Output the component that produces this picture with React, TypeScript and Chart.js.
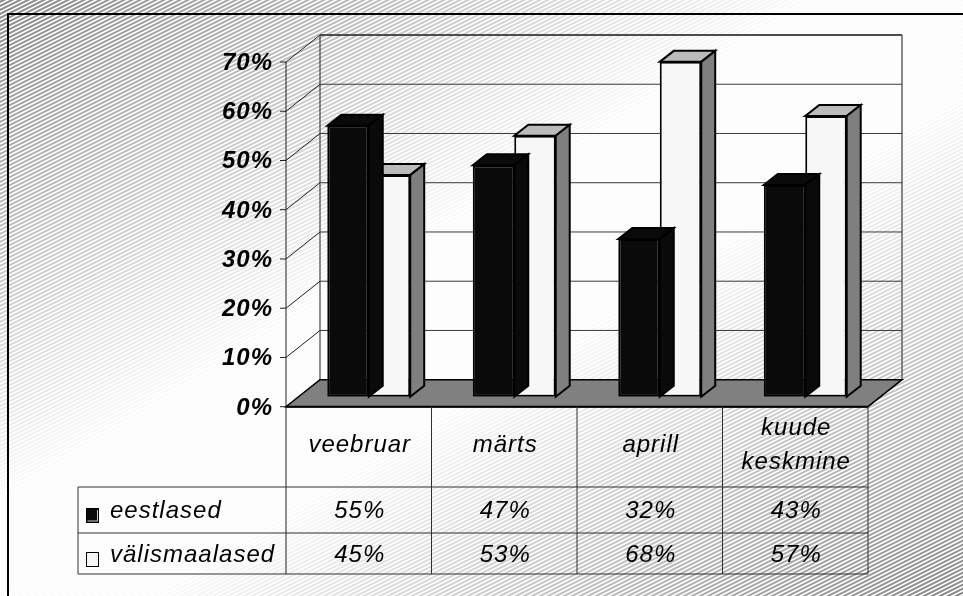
import React, { useEffect, useRef } from "react";
import { Chart, registerables } from "chart.js";

Chart.register(...registerables);

// ---- data ----
const categories: (string | string[])[] = ["veebruar", "märts", "aprill", ["kuude", "keskmine"]];
const seriesNames = ["eestlased", "välismaalased"];
const eestlased = [55, 47, 32, 43];
const valismaalased = [45, 53, 68, 57];
const yTickValues = [0, 10, 20, 30, 40, 50, 60, 70];

const W = 963;
const H = 596;
const FONT = "'Liberation Sans', Arial, sans-serif";

// oblique 3D geometry (offsets relative to the bar plane)
const FRONT = { dx: -10, dy: 10 };
const BACK = { dx: 24, dy: -17 };
const BAR_DEPTH = { dx: 14, dy: -11 };

// table rows
const ROW1 = 487;
const ROW2 = 533;
const ROW3 = 574;
const LEGEND_LEFT = 78;

const faceColors = [
  { front: "#0a0a0a", top: "#0a0a0a", side: "#0a0a0a" },
  { front: "#f7f7f7", top: "#bbbbbb", side: "#7f7f7f" },
];

function poly(ctx: CanvasRenderingContext2D, pts: number[][], fill: string | null, stroke: string | null, lw = 1) {
  ctx.beginPath();
  ctx.moveTo(pts[0][0], pts[0][1]);
  for (let i = 1; i < pts.length; i++) ctx.lineTo(pts[i][0], pts[i][1]);
  ctx.closePath();
  if (fill) {
    ctx.fillStyle = fill;
    ctx.fill();
  }
  if (stroke) {
    ctx.strokeStyle = stroke;
    ctx.lineWidth = lw;
    ctx.stroke();
  }
}

function line(ctx: CanvasRenderingContext2D, x1: number, y1: number, x2: number, y2: number, color: string, lw = 1) {
  ctx.beginPath();
  ctx.moveTo(x1, y1);
  ctx.lineTo(x2, y2);
  ctx.strokeStyle = color;
  ctx.lineWidth = lw;
  ctx.stroke();
}

const backgroundPlugin = {
  id: "hatchBackground",
  beforeDraw(chart: any) {
    const ctx: CanvasRenderingContext2D = chart.ctx;
    ctx.save();
    const g = ctx.createLinearGradient(0, 0, 533, 862);
    g.addColorStop(0, "#858585");
    g.addColorStop(0.42, "#fbfbfb");
    g.addColorStop(0.58, "#fbfbfb");
    g.addColorStop(1, "#858585");
    ctx.fillStyle = g;
    ctx.fillRect(0, 0, W, H);
    ctx.strokeStyle = "#ffffff";
    ctx.lineWidth = 1.6;
    for (let k = -20; k < H + W / 2 + 20; k += 4) {
      ctx.beginPath();
      ctx.moveTo(0, k);
      ctx.lineTo(W, k - W / 2);
      ctx.stroke();
    }
    // outer frame
    ctx.strokeStyle = "#000000";
    ctx.lineWidth = 2;
    ctx.strokeRect(8, 14, W + 20, H + 20);
    ctx.restore();
  },
};

const wallsPlugin = {
  id: "walls3d",
  beforeDatasetsDraw(chart: any) {
    const ctx: CanvasRenderingContext2D = chart.ctx;
    const xs = chart.scales.x;
    const ys = chart.scales.y;
    const area = chart.chartArea;
    const y0 = ys.getPixelForValue(0);
    const yTop = ys.getPixelForValue(yTickValues[yTickValues.length - 1]);
    const fl = area.left + FRONT.dx;
    const fr = area.right + FRONT.dx;
    const bl = area.left + BACK.dx;
    const br = area.right + BACK.dx;
    ctx.save();

    // back wall outline
    line(ctx, bl, yTop + BACK.dy, br, yTop + BACK.dy, "#606060", 2);
    line(ctx, br, yTop + BACK.dy, br, y0 + BACK.dy, "#606060", 1.5);
    line(ctx, bl, yTop + BACK.dy, bl, y0 + BACK.dy, "#202020", 1);
    // grid lines
    for (const v of yTickValues) {
      const yp = ys.getPixelForValue(v);
      line(ctx, bl, yp + BACK.dy, br, yp + BACK.dy, "#3a3a3a", 1);
      line(ctx, fl, yp + FRONT.dy, bl, yp + BACK.dy, "#202020", 1);
      line(ctx, fl - 6, yp + FRONT.dy, fl, yp + FRONT.dy, "#202020", 1);
    }
    // floor
    poly(
      ctx,
      [
        [fl, y0 + FRONT.dy],
        [fr, y0 + FRONT.dy],
        [br, y0 + BACK.dy],
        [bl, y0 + BACK.dy],
      ],
      "#808080",
      "#000000",
      1.5
    );
    line(ctx, fl, y0 + FRONT.dy, fr, y0 + FRONT.dy, "#000000", 2);

    // front vertical axis line down through the table
    line(ctx, fl, yTop + FRONT.dy, fl, ROW3, "#202020", 1);

    // y labels
    ctx.fillStyle = "#000000";
    ctx.font = `italic bold 24px ${FONT}`;
    (ctx as any).letterSpacing = "1px";
    ctx.textAlign = "right";
    ctx.textBaseline = "alphabetic";
    for (const v of yTickValues) {
      const yp = ys.getPixelForValue(v) + FRONT.dy;
      ctx.fillText(`${v}%`, fl - 13, yp + 8);
    }

    // data table
    const n = categories.length;
    const catW = (fr - fl) / n;
    const tableTop = y0 + FRONT.dy;
    for (let i = 1; i <= n; i++) {
      const xb = xs.getPixelForValue(i - 1) + catW / 2 + FRONT.dx;
      line(ctx, xb, tableTop, xb, ROW3, "#303030", 1);
    }
    line(ctx, LEGEND_LEFT, ROW1, fr, ROW1, "#303030", 1);
    line(ctx, LEGEND_LEFT, ROW2, fr, ROW2, "#303030", 1);
    line(ctx, LEGEND_LEFT, ROW3, fr, ROW3, "#303030", 1);
    line(ctx, LEGEND_LEFT, ROW1, LEGEND_LEFT, ROW3, "#303030", 1);

    ctx.font = `italic 24px ${FONT}`;
    ctx.textAlign = "center";
    const headerMid = (tableTop + ROW1) / 2 + 5;
    categories.forEach((c, i) => {
      const cx = xs.getPixelForValue(i) + FRONT.dx;
      const lines = Array.isArray(c) ? c : [c];
      const lh = 34;
      lines.forEach((t, j) => {
        const by = headerMid + (j - (lines.length - 1) / 2) * lh;
        ctx.fillText(t, cx + 1, by);
      });
      ctx.fillText(`${eestlased[i]}%`, cx + 1, (ROW1 + ROW2) / 2 + 8);
      ctx.fillText(`${valismaalased[i]}%`, cx + 1, (ROW2 + ROW3) / 2 + 8);
    });

    // legend keys + names
    ctx.textAlign = "left";
    const rows = [
      { mid: (ROW1 + ROW2) / 2, name: seriesNames[0], fill: "#0a0a0a" },
      { mid: (ROW2 + ROW3) / 2, name: seriesNames[1], fill: "#f7f7f7" },
    ];
    rows.forEach((r, idx) => {
      const ky = Math.round(r.mid - 2);
      ctx.fillStyle = r.fill;
      ctx.fillRect(86, ky, 13, 15);
      ctx.strokeStyle = "#000000";
      ctx.lineWidth = 1;
      ctx.strokeRect(86.5, ky + 0.5, 12, 14);
      if (idx === 0) {
        ctx.strokeStyle = "#cfcfcf";
        ctx.beginPath();
        ctx.moveTo(87.5, ky + 13);
        ctx.lineTo(97.5, ky + 13);
        ctx.lineTo(97.5, ky + 2);
        ctx.stroke();
      }
      ctx.fillStyle = "#000000";
      ctx.fillText(r.name, 110, r.mid + 8);
    });

    ctx.restore();
  },
  afterDatasetDraw(chart: any, args: any) {
    const ctx: CanvasRenderingContext2D = chart.ctx;
    const meta = args.meta;
    const col = faceColors[args.index];
    ctx.save();
    meta.data.forEach((bar: any) => {
      const p = bar.getProps(["x", "y", "base", "width"], true);
      const l = p.x - p.width / 2;
      const r = p.x + p.width / 2;
      const t = Math.min(p.y, p.base);
      const b = Math.max(p.y, p.base);
      poly(
        ctx,
        [
          [l, t],
          [r, t],
          [r + BAR_DEPTH.dx, t + BAR_DEPTH.dy],
          [l + BAR_DEPTH.dx, t + BAR_DEPTH.dy],
        ],
        col.top,
        "#000000",
        2
      );
      poly(
        ctx,
        [
          [r, t],
          [r + BAR_DEPTH.dx, t + BAR_DEPTH.dy],
          [r + BAR_DEPTH.dx, b + BAR_DEPTH.dy],
          [r, b],
        ],
        col.side,
        "#000000",
        2
      );
    });
    ctx.restore();
  },
};

export default function App() {
  const ref = useRef<HTMLCanvasElement | null>(null);
  useEffect(() => {
    document.body.style.margin = "0";
    document.body.style.overflow = "hidden";
    const canvas = ref.current;
    if (!canvas) return;
    const chart = new Chart(canvas, {
      type: "bar",
      data: {
        labels: categories as any,
        datasets: [
          {
            label: seriesNames[0],
            data: eestlased,
            backgroundColor: faceColors[0].front,
            borderColor: "#000000",
            borderWidth: 2,
            borderSkipped: false,
          },
          {
            label: seriesNames[1],
            data: valismaalased,
            backgroundColor: faceColors[1].front,
            borderColor: "#000000",
            borderWidth: 2,
            borderSkipped: false,
          },
        ],
      },
      options: {
        responsive: false,
        animation: false,
        devicePixelRatio: 1,
        layout: { padding: { left: 296, right: 85, top: 52, bottom: 199.3 } },
        datasets: { bar: { categoryPercentage: 0.57, barPercentage: 1 } },
        scales: {
          x: { type: "category", display: false, offset: true },
          y: { type: "linear", display: false, min: 0, max: 70 },
        },
        plugins: {
          legend: { display: false },
          tooltip: { enabled: false },
          title: { display: false },
        },
      },
      plugins: [backgroundPlugin, wallsPlugin],
    } as any);
    return () => chart.destroy();
  }, []);
  return (
    <div style={{ width: W, height: H }}>
      <canvas ref={ref} width={W} height={H} style={{ display: "block" }} />
    </div>
  );
}
